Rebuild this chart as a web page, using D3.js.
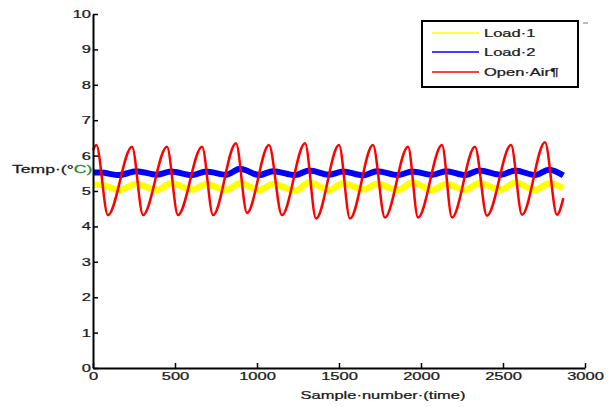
<!DOCTYPE html>
<html>
<head>
<meta charset="utf-8">
<script src="https://cdn.jsdelivr.net/npm/d3@7"></script>
<style>
body { margin: 0; background: #fff; }
text { font-family: "Liberation Sans", Arial, sans-serif; font-size: 11px; fill: #1a1a1a; stroke: #1a1a1a; stroke-width: 0.25px; }
</style>
</head>
<body>
<svg id="chart" width="611" height="407"></svg>
<script>
// Open Air (red): peaks and troughs (sample, temp)
const redPeakSample = [20, 238, 451, 665, 872, 1073, 1293, 1500, 1707, 1921, 2128, 2329, 2549, 2756];
const redPeak = [6.3, 6.25, 6.25, 6.25, 6.35, 6.3, 6.35, 6.3, 6.3, 6.25, 6.3, 6.25, 6.3, 6.38];
const redTroughSample = [91, 305, 518, 732, 939, 1152, 1360, 1567, 1780, 1982, 2189, 2402, 2616, 2829];
const redTrough = [4.32, 4.32, 4.32, 4.32, 4.38, 4.32, 4.22, 4.22, 4.25, 4.25, 4.25, 4.3, 4.33, 4.33];
const redStart = [0, 6.15];
const redEnd = [2868, 4.8];

// Load 2 (blue) and Load 1 (yellow): low point before each bump, bump top
const loadLowSample = [160, 390, 605, 812, 1013, 1233, 1440, 1647, 1861, 2068, 2269, 2489, 2696];
const loadBumpSample = [45, 263, 476, 690, 897, 1098, 1318, 1525, 1732, 1946, 2153, 2354, 2574, 2781];
const blueLow = [5.45, 5.46, 5.45, 5.46, 5.45, 5.45, 5.46, 5.44, 5.45, 5.46, 5.45, 5.46, 5.45];
const blueHigh = [5.52, 5.56, 5.55, 5.55, 5.63, 5.56, 5.58, 5.55, 5.56, 5.55, 5.56, 5.58, 5.58, 5.6];
const blueEnd = [2868, 5.44];
const yellowLow = [5.03, 5.03, 5.04, 5.03, 5.03, 5.01, 5.03, 5.04, 5.03, 5.03, 5.03, 5.04, 5.03];
const yellowHigh = [5.18, 5.2, 5.22, 5.19, 5.22, 5.2, 5.24, 5.22, 5.2, 5.24, 5.2, 5.22, 5.24, 5.22];
const yellowEnd = [2868, 5.08];

const xTicks = [0, 500, 1000, 1500, 2000, 2500, 3000];
const yTicks = [0, 1, 2, 3, 4, 5, 6, 7, 8, 9, 10];
const seriesNames = ["Load\u00b71", "Load\u00b72", "Open\u00b7Air\u00b6"];
const seriesColors = ["#ffff00", "#0000ff", "#ff0000"];

const sx = 1.5; // the text in the picture is stretched sideways

const svg = d3.select("#chart");
const x = d3.scaleLinear().domain([0, 3000]).range([93, 585]);
const y = d3.scaleLinear().domain([0, 10]).range([368, 14]);

function stretch(sel, k) {
    k = k || sx;
    sel.each(function () {
        let t = d3.select(this);
        t.attr("x", (+t.attr("x") || 0) / k).attr("transform", "scale(" + k + ",1)");
    });
}

// build the point lists from the read values
let redPts = [redStart];
for (let i = 0; i < redPeakSample.length; i++) {
    redPts.push([redPeakSample[i], redPeak[i]]);
    redPts.push([redTroughSample[i], redTrough[i]]);
}
redPts.push(redEnd);

function loadPoints(lows, highs, end) {
    let pts = [[0, highs[0]]];
    for (let i = 0; i < loadBumpSample.length; i++) {
        if (i > 0) pts.push([loadLowSample[i - 1], lows[i - 1]]);
        pts.push([loadBumpSample[i], highs[i]]);
    }
    pts.push(end);
    return pts;
}
const yellowPts = loadPoints(yellowLow, yellowHigh, yellowEnd);
const bluePts = loadPoints(blueLow, blueHigh, blueEnd);

const line = d3.line()
    .x(d => x(d[0]))
    .y(d => y(d[1]))
    .curve(d3.curveMonotoneX);

svg.append("path").attr("d", line(yellowPts))
    .attr("fill", "none").attr("stroke", seriesColors[0]).attr("stroke-width", 6.5);
svg.append("path").attr("d", line(bluePts))
    .attr("fill", "none").attr("stroke", seriesColors[1]).attr("stroke-width", 6);
svg.append("path").attr("d", line(redPts))
    .attr("fill", "none").attr("stroke", seriesColors[2]).attr("stroke-width", 2.5);

// axes, ticks pointing inward
let xAxis = svg.append("g")
    .attr("transform", "translate(0," + y(0) + ")")
    .call(d3.axisBottom(x).tickValues(xTicks).tickFormat(d3.format("d"))
        .tickSizeInner(-5).tickSizeOuter(0).tickPadding(4));
let yAxis = svg.append("g")
    .attr("transform", "translate(" + x(0) + ",0)")
    .call(d3.axisLeft(y).tickValues(yTicks).tickFormat(d3.format("d"))
        .tickSizeInner(-5).tickSizeOuter(0).tickPadding(2));

[xAxis, yAxis].forEach(ax => {
    ax.select(".domain").attr("stroke", "#000").attr("stroke-width", 2);
    ax.selectAll(".tick line").attr("stroke", "#000").attr("stroke-width", 1.5);
    ax.selectAll(".tick text").style("font-family", "'Liberation Sans', Arial, sans-serif")
        .style("font-size", "11px").attr("fill", "#1a1a1a").call(stretch);
});

// axis titles
svg.append("g").attr("transform", "translate(383,399)")
    .append("text").attr("text-anchor", "middle")
    .text("Sample\u00b7number\u00b7(time)").call(stretch);

let yl = svg.append("g").attr("transform", "translate(12,173)")
    .append("text");
yl.append("tspan").text("Temp\u00b7(\u00b0");
yl.append("tspan").style("fill", "#1f8a2a").style("stroke", "#1f8a2a").text("C)");
yl.call(stretch, 1.6);

// legend
svg.append("rect")
    .attr("x", 422).attr("y", 21).attr("width", 156).attr("height", 66)
    .attr("fill", "#fff").attr("stroke", "#000").attr("stroke-width", 2);
let legendY = [33, 52, 72];
for (let i = 0; i < seriesNames.length; i++) {
    svg.append("line")
        .attr("x1", 432).attr("x2", 479)
        .attr("y1", legendY[i]).attr("y2", legendY[i])
        .attr("stroke", seriesColors[i]).attr("stroke-width", 1.5);
    svg.append("g").attr("transform", "translate(484," + (legendY[i] + 4) + ")")
        .append("text").text(seriesNames[i]).call(stretch);
}

// stray formatting mark at the top right
svg.append("rect").attr("x", 583).attr("y", 22).attr("width", 5).attr("height", 2).attr("fill", "#a9bfd6");
</script>
</body>
</html>
